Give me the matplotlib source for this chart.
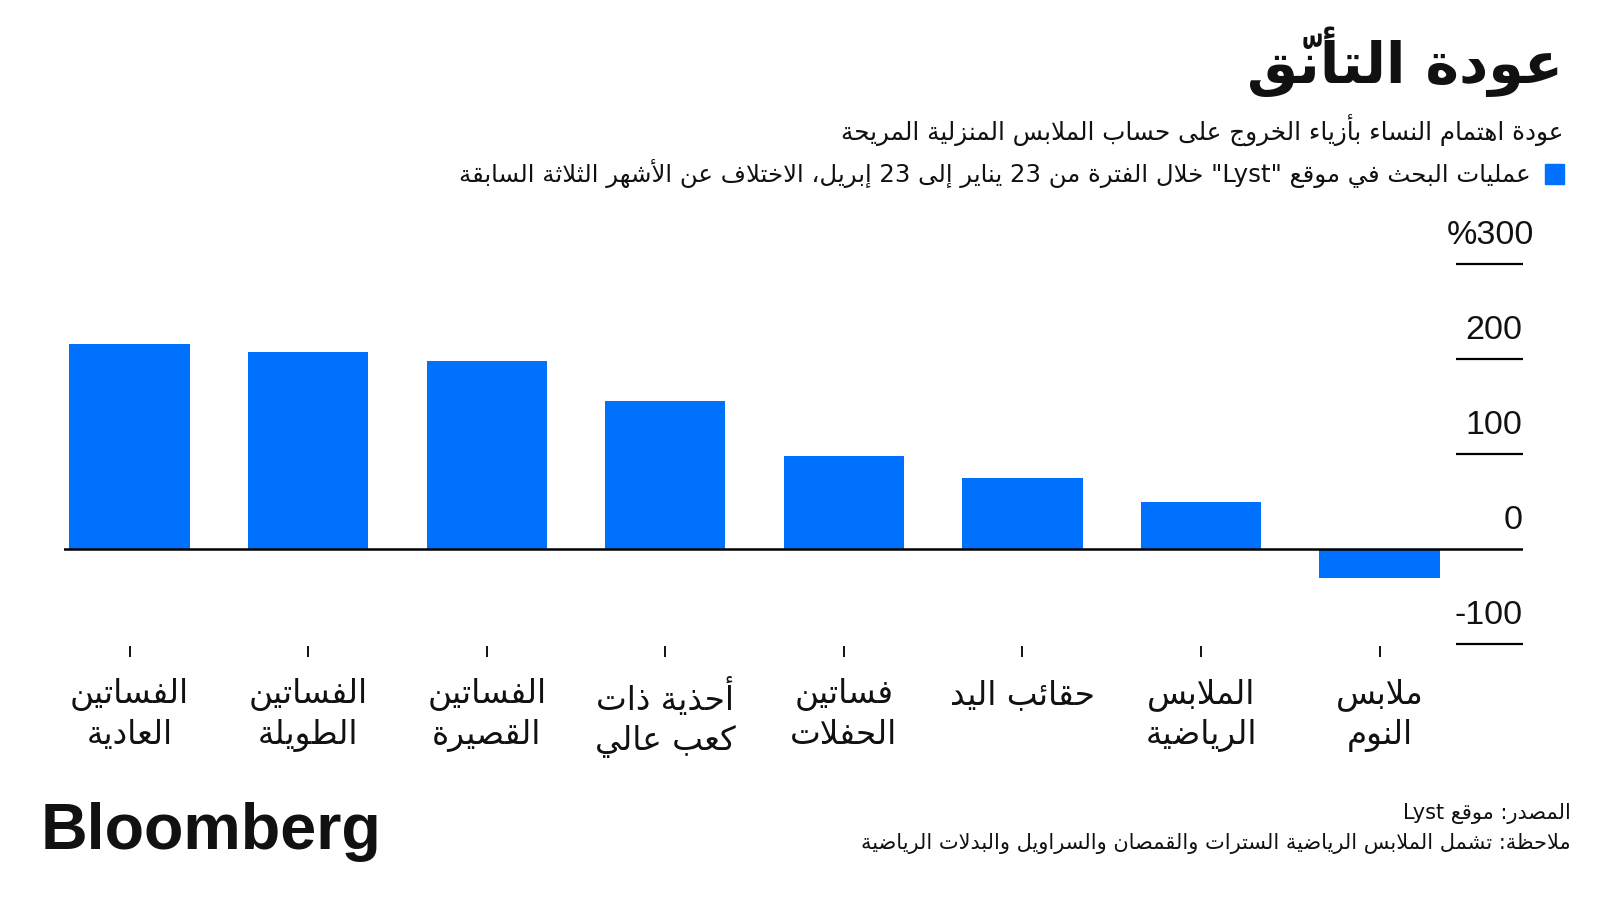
import matplotlib
matplotlib.use("Agg")
import matplotlib.pyplot as plt

# ---------------- data ----------------
categories = ["الفساتين\nالعادية", "الفساتين\nالطويلة", "الفساتين\nالقصيرة",
              "أحذية ذات\nكعب عالي", "فساتين\nالحفلات", "حقائب اليد",
              "الملابس\nالرياضية", "ملابس\nالنوم"]
values = [216, 208, 198, 156, 98, 75, 50, -30]
yticks = [-100, 0, 100, 200, 300]
ytick_labels = ["-100", "0", "100", "200", "%300"]

title = "عودة التأنّق"
subtitle = "عودة اهتمام النساء بأزياء الخروج على حساب الملابس المنزلية المريحة"
legend_label = 'عمليات البحث في موقع "Lyst" خلال الفترة من 23 يناير إلى 23 إبريل، الاختلاف عن الأشهر الثلاثة السابقة'
source = "المصدر: موقع Lyst"
note = "ملاحظة: تشمل الملابس الرياضية السترات والقمصان والسراويل والبدلات الرياضية"
brand = "Bloomberg"

BLUE = "#0070ff"
INK = "#111111"

# ---------------- minimal Arabic shaping + bidi ----------------
_TABLE = [
    (0x0621, 0xFE80, 1), (0x0622, 0xFE81, 2), (0x0623, 0xFE83, 2), (0x0624, 0xFE85, 2),
    (0x0625, 0xFE87, 2), (0x0626, 0xFE89, 4), (0x0627, 0xFE8D, 2), (0x0628, 0xFE8F, 4),
    (0x0629, 0xFE93, 2), (0x062A, 0xFE95, 4), (0x062B, 0xFE99, 4), (0x062C, 0xFE9D, 4),
    (0x062D, 0xFEA1, 4), (0x062E, 0xFEA5, 4), (0x062F, 0xFEA9, 2), (0x0630, 0xFEAB, 2),
    (0x0631, 0xFEAD, 2), (0x0632, 0xFEAF, 2), (0x0633, 0xFEB1, 4), (0x0634, 0xFEB5, 4),
    (0x0635, 0xFEB9, 4), (0x0636, 0xFEBD, 4), (0x0637, 0xFEC1, 4), (0x0638, 0xFEC5, 4),
    (0x0639, 0xFEC9, 4), (0x063A, 0xFECD, 4), (0x0641, 0xFED1, 4), (0x0642, 0xFED5, 4),
    (0x0643, 0xFED9, 4), (0x0644, 0xFEDD, 4), (0x0645, 0xFEE1, 4), (0x0646, 0xFEE5, 4),
    (0x0647, 0xFEE9, 4), (0x0648, 0xFEED, 2), (0x0649, 0xFEEF, 2), (0x064A, 0xFEF1, 4),
]
FORMS = {chr(c): (base, n) for c, base, n in _TABLE}
LAM_ALEF = {"\u0622": 0xFEF5, "\u0623": 0xFEF7, "\u0625": 0xFEF9, "\u0627": 0xFEFB}


def _is_mark(ch):
    return 0x064B <= ord(ch) <= 0x0652 or ord(ch) == 0x0670


def _dual(ch):
    return ch == "\u0640" or (ch in FORMS and FORMS[ch][1] == 4)


def _joins(ch):
    return ch == "\u0640" or (ch in FORMS and FORMS[ch][1] >= 2)


def shape(text):
    chars = list(text)
    n = len(chars)
    out = []
    i = 0

    def prev_base(k):
        k -= 1
        while k >= 0 and _is_mark(chars[k]):
            k -= 1
        return chars[k] if k >= 0 else None

    def next_idx(k):
        k += 1
        while k < n and _is_mark(chars[k]):
            k += 1
        return k

    while i < n:
        ch = chars[i]
        if ch not in FORMS:
            out.append(ch)
            i += 1
            continue
        p = prev_base(i)
        cp = p is not None and _dual(p)
        j = next_idx(i)
        nx = chars[j] if j < n else None
        if ch == "\u0644" and nx in LAM_ALEF:
            out.append(chr(LAM_ALEF[nx] + (1 if cp else 0)))
            out.extend(chars[i + 1:j])
            i = j + 1
            continue
        base, nf = FORMS[ch]
        cn = nf == 4 and nx is not None and _joins(nx)
        if nf == 1:
            form = base
        elif nf == 2:
            form = base + (1 if cp else 0)
        else:
            if cp and cn:
                form = base + 3
            elif cp:
                form = base + 1
            elif cn:
                form = base + 2
            else:
                form = base
        out.append(chr(form))
        i += 1
    return "".join(out)


def visual(text):
    lines = []
    for line in text.split("\n"):
        clusters = list(shape(line))
        clusters.reverse()
        res = []
        k = 0
        while k < len(clusters):
            c = clusters[k]
            if c.isascii() and c.isalnum():
                m = k
                while m < len(clusters) and clusters[m].isascii() and (clusters[m].isalnum() or clusters[m] in ".,"):
                    m += 1
                res.extend(reversed(clusters[k:m]))
                k = m
            else:
                res.append(c)
                k += 1
        lines.append("".join(res))
    return "\n".join(lines)


# ---------------- figure ----------------
W, H = 1600, 900
fig = plt.figure(figsize=(16, 9), dpi=100)
fig.patch.set_facecolor("white")


def fx(px):
    return px / W


def fy(py):
    return 1 - py / H


AR = ["DejaVu Sans"]

ax = fig.add_axes([fx(64), fy(644.3), fx(1522.5) - fx(64), fy(264.3) - fy(644.3)])
x = list(range(len(values)))
ax.bar(x, values, width=0.674, color=BLUE, zorder=2)
ax.set_xlim(-0.367, 7.80)
ax.set_ylim(-100, 300)
for s in ax.spines.values():
    s.set_visible(False)
ax.spines["bottom"].set_position(("outward", 1))
ax.axhline(0, color="black", lw=1.8, zorder=3)

ytr = ax.get_yaxis_transform()
for v, lab in zip(yticks, ytick_labels):
    if v != 0:
        ax.plot([0.9544, 1.0], [v, v], transform=ytr, color="black", lw=1.6,
                solid_capstyle="butt", clip_on=False)
    xr = 1.0079 if lab.startswith("%") else 1.0
    ax.text(xr, v + 21.5, lab, transform=ytr, ha="right", va="baseline",
            fontsize=24.5, family="Liberation Sans", color=INK)

ax.tick_params(axis="y", left=False, labelleft=False)
ax.set_xticks(x)
ax.set_xticklabels([visual(c) for c in categories], family=AR, fontsize=23.5,
                   color=INK, linespacing=1.27)
ax.tick_params(axis="x", length=8, width=1.4, color=INK, pad=15)

# titles
fig.text(fx(1563), fy(62), visual(title), ha="right", va="center",
         fontsize=41, fontweight="bold", family=AR, color=INK)
fig.text(fx(1563), fy(130), visual(subtitle), ha="right", va="center",
         fontsize=17.7, family=AR, color=INK)
fig.patches.append(plt.Rectangle((fx(1545), fy(184)), fx(19), fy(164) - fy(184),
                                 transform=fig.transFigure, color=BLUE))
fig.text(fx(1531), fy(174), visual(legend_label), ha="right", va="center",
         fontsize=17.6, family=AR, color=INK)

# footer
fig.text(fx(41), fy(832), brand, ha="left", va="center", fontsize=46.5,
         fontweight="bold", family="Liberation Sans", color=INK)
fig.text(fx(1571), fy(814), visual(source), ha="right", va="center",
         fontsize=15, family=AR, color=INK)
fig.text(fx(1571), fy(843), visual(note), ha="right", va="center",
         fontsize=15, family=AR, color=INK)

fig.savefig("out.png", dpi=100, facecolor="white")
